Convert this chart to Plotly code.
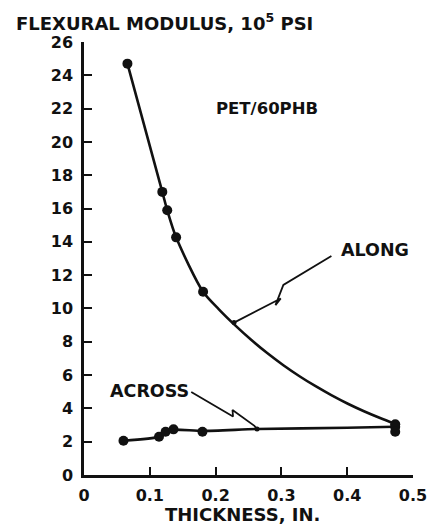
import plotly.graph_objects as go

# Measured flexural modulus (10^5 psi) vs. specimen thickness (in.)
along_x = [0.066, 0.119, 0.1265, 0.140, 0.181, 0.473]
along_y = [24.7, 17.0, 15.9, 14.27, 11.0, 3.05]

across_x = [0.060, 0.114, 0.124, 0.136, 0.180, 0.473, 0.473]
across_y = [2.06, 2.3, 2.6, 2.74, 2.6, 2.9, 2.6]

# Hand-faired curves through the data
along_curve_x = [0.066, 0.119, 0.1265, 0.140, 0.181, 0.205, 0.2294, 0.254, 0.2784, 0.303,
                 0.3275, 0.352, 0.3765, 0.401, 0.4255, 0.450, 0.473]
along_curve_y = [24.7, 17.0, 15.9, 14.27, 11.0, 9.95, 9.0, 8.12, 7.32, 6.59,
                 5.93, 5.33, 4.78, 4.28, 3.83, 3.42, 3.07]

across_curve_x = [0.060, 0.114, 0.124, 0.136, 0.180, 0.263, 0.400, 0.473]
across_curve_y = [2.06, 2.3, 2.6, 2.72, 2.65, 2.76, 2.84, 2.9]

# Zig-zag leader lines from the labels to the curves
along_leader_x = [0.376, 0.303, 0.291, 0.299, 0.228]
along_leader_y = [13.15, 11.41, 10.2, 10.6, 9.15]
across_leader_x = [0.163, 0.2265, 0.2257, 0.259, 0.263]
across_leader_y = [4.98, 3.51, 3.9, 2.95, 2.76]

x_ticks = [0, 0.1, 0.2, 0.3, 0.4, 0.5]
x_ticktext = ["0", "0.1", "0.2", "0.3", "0.4", "0.5"]
y_ticks = list(range(0, 27, 2))

FONT = "DejaVu Sans"
INK = "#111111"

fig = go.Figure()

fig.add_trace(go.Scatter(x=along_curve_x, y=along_curve_y, mode="lines",
                         line=dict(color=INK, width=2.6, shape="spline", smoothing=0.8),
                         hoverinfo="skip", showlegend=False))
fig.add_trace(go.Scatter(x=across_curve_x, y=across_curve_y, mode="lines",
                         line=dict(color=INK, width=2.6, shape="spline", smoothing=0.6),
                         hoverinfo="skip", showlegend=False))
fig.add_trace(go.Scatter(x=along_x, y=along_y, mode="markers", name="ALONG",
                         marker=dict(color=INK, size=10), cliponaxis=False, showlegend=False))
fig.add_trace(go.Scatter(x=across_x, y=across_y, mode="markers", name="ACROSS",
                         marker=dict(color=INK, size=10), cliponaxis=False, showlegend=False))

for lx, ly in [(along_leader_x, along_leader_y), (across_leader_x, across_leader_y)]:
    fig.add_trace(go.Scatter(x=lx, y=ly, mode="lines",
                             line=dict(color=INK, width=1.8),
                             hoverinfo="skip", showlegend=False))
    fig.add_trace(go.Scatter(x=[lx[-1]], y=[ly[-1]], mode="markers",
                             marker=dict(color=INK, size=5),
                             hoverinfo="skip", showlegend=False))

label_font = dict(family=FONT, size=17.5, color=INK)
fig.add_annotation(x=0.278, y=22.0, text="<b>PET/60PHB</b>", showarrow=False,
                   font=dict(family=FONT, size=16.5, color=INK))
fig.add_annotation(x=0.443, y=13.5, text="<b>ALONG</b>", showarrow=False, font=label_font)
fig.add_annotation(x=0.100, y=5.06, text="<b>ACROSS</b>", showarrow=False, font=label_font)

fig.add_annotation(xref="paper", yref="paper", x=-0.212, y=1.047, xanchor="left", yanchor="middle",
                   text="<b>FLEXURAL MODULUS, 10<sup>5</sup> PSI</b>", showarrow=False,
                   font=dict(family=FONT, size=18, color=INK))
fig.add_annotation(xref="paper", yref="paper", x=0.482, y=-0.092, xanchor="center", yanchor="middle",
                   text="<b>THICKNESS, IN.</b>", showarrow=False,
                   font=dict(family=FONT, size=18, color=INK))

axis_common = dict(showgrid=False, zeroline=False, showline=True, linecolor=INK, linewidth=2.5,
                   ticks="inside", ticklen=8, tickwidth=2, tickcolor=INK,
                   tickfont=dict(family=FONT, size=16, color=INK))

fig.update_xaxes(range=[0, 0.5], tickvals=x_ticks, ticktext=[f"<b>{t}</b>" for t in x_ticktext],
                 ticklabelstandoff=4, **axis_common)
fig.update_yaxes(range=[0, 26], tickvals=y_ticks, ticktext=[f"<b>{t}</b>" for t in y_ticks],
                 ticklabelstandoff=5, **axis_common)

fig.update_layout(width=439, height=527, margin=dict(l=84, r=15, t=42, b=52),
                  paper_bgcolor="white", plot_bgcolor="white", showlegend=False)

fig.write_html("out.html")
